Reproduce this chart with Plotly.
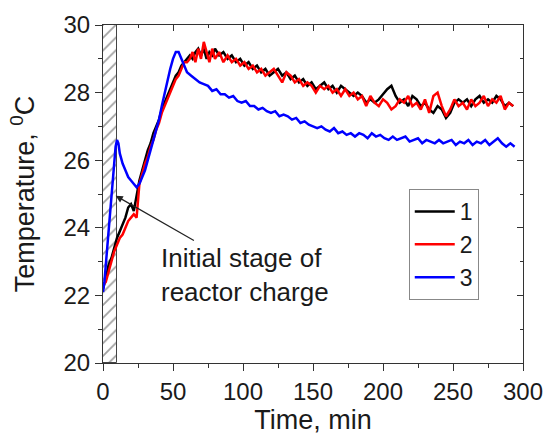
import plotly.graph_objects as go

# ---------------- data ----------------
time_12 = [0, 2, 4, 6, 8, 10, 12, 14, 16, 18, 20, 22, 24, 26, 28, 30, 32, 34, 36, 38, 40,
           42, 44, 46, 48, 50, 52, 54, 56, 58, 60, 62, 64, 66, 68, 70, 72, 74, 76, 78, 80,
           83, 86, 89, 92, 95, 98, 101, 104, 107, 110, 113, 116, 119, 122, 125, 128, 131,
           134, 137, 140, 143, 146, 149, 152, 155, 158, 161, 164, 167, 170, 173, 176, 179,
           182, 185, 188, 191, 194, 197, 200, 203, 206, 209, 212, 215, 218, 221, 224, 227,
           230, 233, 236, 239, 242, 245, 248, 251, 254, 257, 260, 263, 266, 269, 272, 275,
           278, 281, 284, 287, 290, 293]

temp_1 = [22.2, 22.5, 22.9, 23.1, 23.4, 23.7, 23.9, 24.1, 24.3, 24.6, 24.7, 24.5, 25.0, 25.4,
          25.7, 26.0, 26.3, 26.5, 26.8, 27.0, 27.2, 27.5, 27.7, 27.9, 28.1, 28.3, 28.5, 28.6,
          28.8, 28.9, 29.0, 29.1, 29.0, 29.2, 29.3, 29.1, 29.3, 29.0, 29.2, 29.1, 29.3,
          29.1, 29.2, 29.0, 29.1, 28.9, 29.0, 28.8, 28.9, 28.7, 28.8, 28.6, 28.7, 28.5, 28.6,
          28.7, 28.5, 28.6, 28.4, 28.5, 28.3, 28.4, 28.2, 28.3, 28.1, 28.2, 28.3, 28.1, 28.2,
          28.0, 28.2, 28.1, 28.0, 27.9, 28.0, 27.9, 27.7, 27.8, 27.7, 27.8, 27.95, 28.1, 28.2,
          27.9, 27.7, 27.8, 27.6, 27.9, 27.8, 27.6, 27.7, 27.5, 27.4, 27.6, 27.5, 27.25, 27.4,
          27.7, 27.8, 27.7, 27.8, 27.6, 27.8, 27.9, 27.7, 27.8, 27.7, 27.9, 27.8, 27.6, 27.7,
          27.6]

temp_2 = [22.3, 22.4, 22.7, 23.0, 23.3, 23.5, 23.7, 23.8, 24.0, 24.2, 24.3, 24.4, 24.3, 25.3,
          25.6, 25.9, 26.1, 26.4, 26.6, 26.9, 27.1, 27.4, 27.6, 27.8, 28.0, 28.2, 28.4, 28.5,
          28.7, 28.9, 28.9, 29.0, 29.2, 28.9, 29.3, 29.0, 29.5, 29.2, 28.9, 29.3, 29.0,
          29.2, 28.9, 29.1, 28.9, 29.0, 28.8, 28.9, 28.7, 28.8, 28.6, 28.7, 28.5, 28.6, 28.7,
          28.5, 28.3, 28.6, 28.5, 28.3, 28.4, 28.2, 28.3, 28.2, 28.0, 28.2, 28.1, 28.2, 28.0,
          28.1, 27.9, 28.1, 27.9, 28.0, 27.8, 27.9, 27.6, 27.9, 27.7, 27.6, 27.8, 27.7, 27.5,
          27.6, 27.8, 27.7, 27.9, 27.6, 27.7, 27.5, 27.8, 27.4, 27.9, 28.0, 27.6, 27.3, 27.5,
          27.8, 27.6, 27.7, 27.5, 27.8, 27.6, 27.7, 27.9, 27.6, 27.8, 27.7, 27.9, 27.5, 27.7,
          27.6]

time_3 = [0, 1, 2, 3, 4, 5, 6, 7, 8, 9, 10, 11, 12, 14, 16, 18, 20, 22, 24, 26, 28, 30, 32,
          34, 36, 38, 40, 42, 44, 46, 48, 50, 52, 54, 56, 58, 60,
          63, 66, 69, 72, 75, 78, 81, 84, 87, 90, 93, 96, 99, 102, 105, 108, 111, 114, 117,
          120, 123, 126, 129, 132, 135, 138, 141, 144, 147, 150, 153, 156, 159, 162, 165,
          168, 171, 174, 177, 180, 183, 186, 189, 192, 195, 198, 201, 204, 207, 210, 213,
          216, 219, 222, 225, 228, 231, 234, 237, 240, 243, 246, 249, 252, 255, 258, 261,
          264, 267, 270, 273, 276, 279, 282, 285, 288, 291, 294]

temp_3 = [22.1, 22.4, 22.9, 23.4, 23.9, 24.5, 25.0, 25.5, 26.0, 26.4, 26.6, 26.5, 26.2, 25.9,
          25.7, 25.5, 25.4, 25.3, 25.2, 25.3, 25.5, 25.7, 26.0, 26.3, 26.6, 26.9, 27.2, 27.6,
          28.0, 28.4, 28.7, 29.0, 29.2, 29.2, 29.0, 28.8, 28.6,
          28.5, 28.4, 28.3, 28.25, 28.2, 28.05, 28.1, 27.95, 27.95, 27.85,
          27.9, 27.75, 27.7, 27.75, 27.6, 27.6, 27.5, 27.55, 27.45, 27.4,
          27.45, 27.3, 27.35, 27.3, 27.2, 27.25, 27.1, 27.15, 27.05, 27.0,
          26.95, 27.0, 26.9, 26.85, 26.95, 26.8, 26.85, 26.75, 26.8, 26.7,
          26.8, 26.75, 26.65, 26.8, 26.7, 26.75, 26.65, 26.6, 26.7, 26.6,
          26.65, 26.7, 26.55, 26.6, 26.65, 26.5, 26.6, 26.55, 26.5, 26.6,
          26.5, 26.55, 26.6, 26.45, 26.55, 26.5, 26.6, 26.45, 26.55, 26.5,
          26.6, 26.45, 26.55, 26.65, 26.5, 26.4, 26.5, 26.4]

series_names = ["1", "2", "3"]
series_colors = ["#000000", "#ff0000", "#0000ff"]

charge_stage = [0, 10]          # initial stage of reactor charge, min
x_range = [0, 300]
y_range = [20, 30]

annotation_text = "Initial stage of<br>reactor charge"
x_title = "Time, min"
y_title = "Temperature, <sup>0</sup>C"

FONT = "Liberation Sans, Arial, sans-serif"
TXT = "#1a1a1a"

# ---------------- figure ----------------
fig = go.Figure()

# hatched region of the initial charging stage
fig.add_trace(go.Bar(
    x=[(charge_stage[0] + charge_stage[1]) / 2],
    y=[y_range[1] - y_range[0]],
    base=[y_range[0]],
    width=[charge_stage[1] - charge_stage[0]],
    marker=dict(color="white", line=dict(color="#444444", width=1),
                pattern=dict(shape="/", fgcolor="#444444", bgcolor="white",
                             size=9, solidity=0.2)),
    showlegend=False, hoverinfo="skip",
))

for t, v, name, col in [(time_12, temp_1, series_names[0], series_colors[0]),
                        (time_12, temp_2, series_names[1], series_colors[1]),
                        (time_3, temp_3, series_names[2], series_colors[2])]:
    fig.add_trace(go.Scatter(x=t, y=v, mode="lines", name=name,
                             line=dict(color=col, width=2.5)))

# invisible trace to carry the mirrored (top/right) axes with inside ticks
fig.add_trace(go.Scatter(x=[None], y=[None], xaxis="x2", yaxis="y2",
                         showlegend=False, hoverinfo="skip"))

axis_common = dict(showgrid=False, zeroline=False, linecolor="#333333", linewidth=1.2,
                   tickcolor="#333333", tickwidth=1.2, automargin=False,
                   tickfont=dict(family=FONT, size=24, color=TXT))

fig.update_layout(
    width=547, height=436,
    margin=dict(l=103, r=24, t=25, b=73),
    paper_bgcolor="white", plot_bgcolor="white",
    font=dict(family=FONT, color=TXT),
    bargap=0,
    xaxis=dict(range=x_range, dtick=50, tick0=0, ticks="outside", ticklen=7,
               minor=dict(dtick=25, ticks="outside", ticklen=4, tickcolor="#333333"),
               title=dict(text=x_title, font=dict(family=FONT, size=27, color=TXT),
                          standoff=6),
               mirror=True, showline=True, **axis_common),
    yaxis=dict(range=y_range, dtick=2, tick0=20, ticks="outside", ticklen=7,
               minor=dict(dtick=1, ticks="outside", ticklen=4, tickcolor="#333333"),
               title=dict(text=y_title, font=dict(family=FONT, size=27, color=TXT),
                          standoff=20),
               mirror=True, showline=True, **axis_common),
    xaxis2=dict(range=x_range, overlaying="x", side="top", dtick=50, tick0=0,
                ticks="inside", ticklen=6, showticklabels=False, showgrid=False,
                zeroline=False, showline=False, tickcolor="#333333", tickwidth=1.2,
                minor=dict(dtick=25, ticks="inside", ticklen=3, tickcolor="#333333")),
    yaxis2=dict(range=y_range, overlaying="y", side="right", dtick=2, tick0=20,
                ticks="inside", ticklen=6, showticklabels=False, showgrid=False,
                zeroline=False, showline=False, tickcolor="#333333", tickwidth=1.2,
                minor=dict(dtick=1, ticks="inside", ticklen=3, tickcolor="#333333")),
    legend=dict(x=0.728, y=0.515, xanchor="left", yanchor="top",
                bgcolor="white", bordercolor="#888888", borderwidth=1,
                font=dict(family=FONT, size=23, color=TXT),
                itemwidth=40, tracegroupgap=0),
    showlegend=True,
)

# arrow pointing at the hatched region
fig.add_annotation(x=9, y=24.95, ax=66, ay=23.6, xref="x", yref="y",
                   axref="x", ayref="y", text="", showarrow=True,
                   arrowhead=2, arrowsize=1.2, arrowwidth=1.2, arrowcolor="#222222")
# label
fig.add_annotation(x=40, y=22.6, xref="x", yref="y", text=annotation_text,
                   showarrow=False, xanchor="left", yanchor="middle", align="left",
                   font=dict(family=FONT, size=26, color=TXT))

fig.write_html("out.html")
